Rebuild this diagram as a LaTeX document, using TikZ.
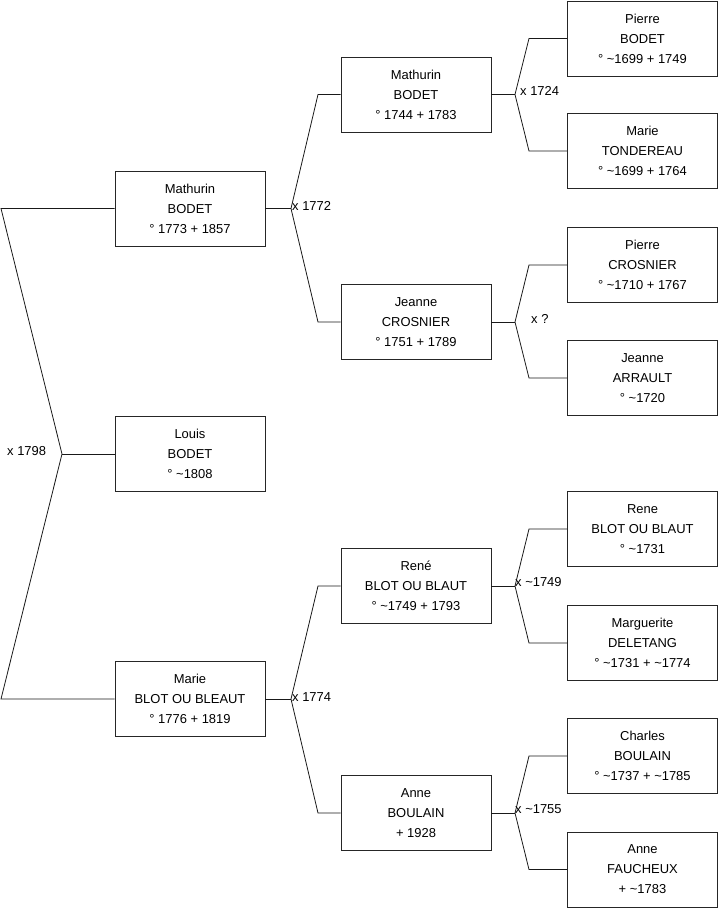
\documentclass[tikz,border=0pt]{standalone}
\usepackage{fontspec}
\setmainfont{Liberation Sans}
\begin{document}
\begin{tikzpicture}[x=1bp,y=-1bp,
  person/.style={draw=black!85, line width=0.8bp, minimum width=150bp, minimum height=75bp, align=center, inner sep=0pt, font=\fontsize{13}{20}\selectfont},
  link/.style={line width=0.8bp, black!90},
  lbl/.style={font=\fontsize{13}{14}\selectfont, inner sep=0pt, anchor=west}]
\useasboundingbox (0,0) rectangle (719,908);
% generation 1
\node[person] (louis) at (190,454) {Louis\\BODET\\° \textasciitilde1808};
% generation 2
\node[person] (mat1) at (190,208.5) {Mathurin\\BODET\\° 1773 + 1857};
\node[person] (mar1) at (190,699) {Marie\\BLOT OU BLEAUT\\° 1776 + 1819};
% generation 3
\node[person] (mat2) at (416,94.5) {Mathurin\\BODET\\° 1744 + 1783};
\node[person] (jea2) at (416,322) {Jeanne\\CROSNIER\\° 1751 + 1789};
\node[person] (ren2) at (416,586) {René\\BLOT OU BLAUT\\° \textasciitilde1749 + 1793};
\node[person] (ann2) at (416,813) {Anne\\BOULAIN\\+ 1928};
% generation 4
\node[person] (pie3) at (642.5,38.5) {Pierre\\BODET\\° \textasciitilde1699 + 1749};
\node[person] (mar3) at (642.5,151) {Marie\\TONDEREAU\\° \textasciitilde1699 + 1764};
\node[person] (pcr3) at (642.5,265) {Pierre\\CROSNIER\\° \textasciitilde1710 + 1767};
\node[person] (jar3) at (642.5,378) {Jeanne\\ARRAULT\\° \textasciitilde1720};
\node[person] (ren3) at (642.5,529) {Rene\\BLOT OU BLAUT\\° \textasciitilde1731};
\node[person] (mdl3) at (642.5,643) {Marguerite\\DELETANG\\° \textasciitilde1731 + \textasciitilde1774};
\node[person] (cha3) at (642.5,756) {Charles\\BOULAIN\\° \textasciitilde1737 + \textasciitilde1785};
\node[person] (anf3) at (642.5,869.5) {Anne\\FAUCHEUX\\+ \textasciitilde1783};
% forks
\coordinate (f0) at (62,454);
\coordinate (f0a) at (1,208.5);
\coordinate (f0b) at (1,699);
\coordinate (f1) at (291,208.5);
\coordinate (f1a) at (318,94.5);
\coordinate (f1b) at (318,322);
\coordinate (f2) at (291,699);
\coordinate (f2a) at (318,586);
\coordinate (f2b) at (318,813);
\coordinate (f3) at (515,94.5);
\coordinate (f3a) at (529,38.5);
\coordinate (f3b) at (529,151);
\coordinate (f4) at (515,322);
\coordinate (f4a) at (529,265);
\coordinate (f4b) at (529,378);
\coordinate (f5) at (515,586);
\coordinate (f5a) at (529,529);
\coordinate (f5b) at (529,643);
\coordinate (f6) at (515,813);
\coordinate (f6a) at (529,756);
\coordinate (f6b) at (529,869.5);
% connectors
\draw[link] (louis.west) -- (f0);
\draw[link] (mat1.west) -- (f0a) -- (f0) -- (f0b) -- (mar1.west);
\draw[link] (mat1.east) -- (f1);
\draw[link] (mat2.west) -- (f1a) -- (f1) -- (f1b) -- (jea2.west);
\draw[link] (mar1.east) -- (f2);
\draw[link] (ren2.west) -- (f2a) -- (f2) -- (f2b) -- (ann2.west);
\draw[link] (mat2.east) -- (f3);
\draw[link] (pie3.west) -- (f3a) -- (f3) -- (f3b) -- (mar3.west);
\draw[link] (jea2.east) -- (f4);
\draw[link] (pcr3.west) -- (f4a) -- (f4) -- (f4b) -- (jar3.west);
\draw[link] (ren2.east) -- (f5);
\draw[link] (ren3.west) -- (f5a) -- (f5) -- (f5b) -- (mdl3.west);
\draw[link] (ann2.east) -- (f6);
\draw[link] (cha3.west) -- (f6a) -- (f6) -- (f6b) -- (anf3.west);
% marriage labels
\node[lbl] (m0) at (7,451) {x 1798};
\node[lbl] (m1) at (292,206) {x 1772};
\node[lbl] (m2) at (292,697) {x 1774};
\node[lbl] (m3) at (520,91) {x 1724};
\node[lbl] (m4) at (531,319) {x ?};
\node[lbl] (m5) at (515,582) {x \textasciitilde1749};
\node[lbl] (m6) at (515,809) {x \textasciitilde1755};
\end{tikzpicture}
\end{document}
